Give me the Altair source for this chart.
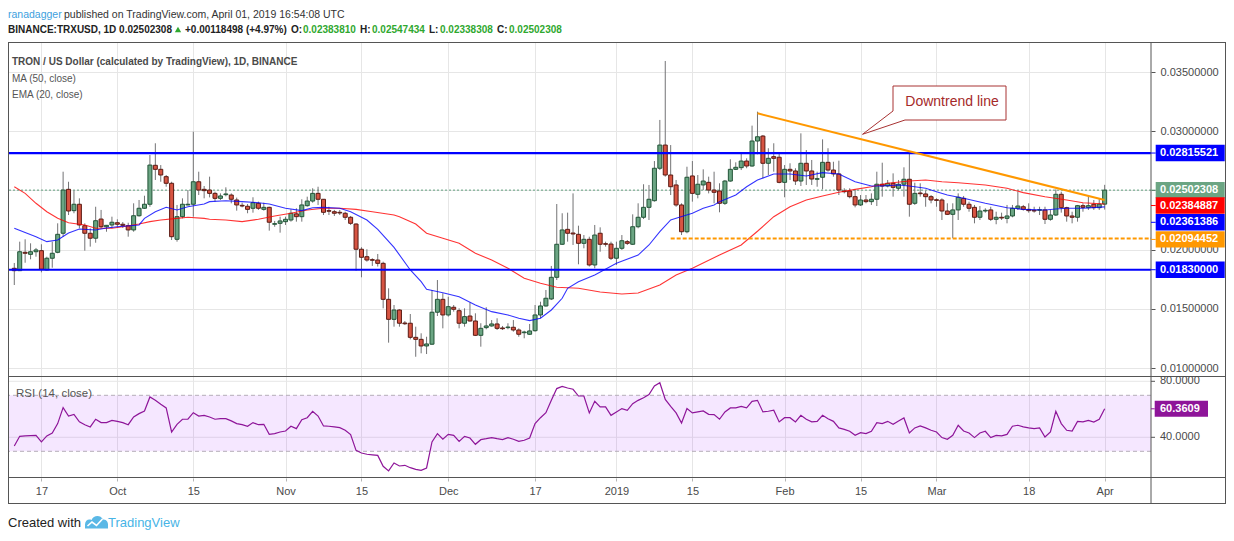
import altair as alt
import numpy as np
import pandas as pd

# ---------------- data (prices in thousandths of USD) ----------------
START = "2018-09-12"

open_k = [18.42, 18.22, 19.77, 19.60, 19.82, 19.91, 18.28, 19.27, 19.77, 21.38,
          25.09, 23.29, 23.83, 22.02, 21.38, 20.96, 22.58, 21.93, 22.08, 22.27,
          22.14, 22.02, 21.66, 22.86, 23.49, 23.83, 27.12, 26.78, 26.16, 25.60,
          20.87, 22.78, 23.77, 23.83, 25.73, 25.09, 25.03, 24.75, 24.33, 24.64,
          24.61, 24.19, 23.74, 23.66, 23.49, 23.91, 23.40, 23.57, 22.14, 22.22,
          22.36, 22.50, 23.02, 22.78, 23.71, 24.10, 24.75, 24.25, 23.29, 23.20,
          23.15, 23.07, 22.73, 22.16, 20.03, 19.40, 19.15, 19.12, 18.84, 15.80,
          14.11, 14.90, 13.80, 13.78, 12.59, 12.42, 11.86, 12.01, 14.71, 15.80,
          14.48, 15.13, 14.84, 13.78, 14.39, 13.97, 12.76, 13.41, 13.55, 13.72,
          13.38, 13.41, 13.44, 13.21, 12.98, 12.85, 13.15, 14.48, 15.24, 15.83,
          17.66, 20.45, 21.71, 21.40, 21.29, 20.53, 20.87, 18.70, 21.38, 20.50,
          20.47, 19.27, 20.11, 20.67, 20.45, 21.93, 22.73, 23.57, 24.13, 26.87,
          28.83, 26.30, 25.46, 23.77, 21.51, 26.22, 24.67, 25.46, 25.68, 25.03,
          24.95, 23.91, 25.79, 26.78, 26.92, 27.48, 27.06, 29.17, 29.59, 27.29,
          27.85, 27.80, 25.68, 26.78, 26.64, 25.79, 27.29, 26.64, 25.94, 26.11,
          27.37, 26.72, 26.39, 24.95, 24.95, 24.47, 23.77, 24.19, 24.05, 24.25,
          25.52, 25.37, 25.60, 25.18, 25.52, 25.94, 23.91, 24.78, 24.70, 24.47,
          24.21, 24.19, 23.26, 22.98, 23.35, 24.33, 23.83, 23.57, 22.73, 23.26,
          23.35, 22.56, 22.73, 22.64, 22.84, 23.49, 23.62, 23.40, 23.32, 23.32,
          23.35, 22.56, 22.92, 24.67, 23.54, 22.84, 22.73, 23.71, 23.54, 23.83,
          23.54, 23.84]

high_k = [18.87, 20.67, 20.87, 20.53, 20.14, 20.45, 19.40, 20.67, 22.22, 26.58,
          25.73, 24.98, 24.33, 22.22, 21.80, 23.62, 23.35, 22.08, 22.78, 22.56,
          22.33, 22.27, 23.91, 24.19, 24.55, 27.99, 28.98, 27.14, 26.30, 25.73,
          23.77, 24.33, 25.03, 29.96, 26.58, 25.37, 26.16, 24.89, 24.75, 25.26,
          24.75, 24.39, 23.96, 23.85, 24.42, 24.05, 23.96, 23.62, 22.42, 22.78,
          22.78, 23.40, 23.49, 24.25, 24.47, 25.18, 25.31, 24.27, 23.62, 23.35,
          23.35, 23.20, 22.84, 22.22, 20.20, 20.03, 19.27, 19.63, 18.98, 16.73,
          15.32, 14.96, 13.97, 14.56, 13.49, 12.93, 12.64, 16.59, 17.43, 16.31,
          16.02, 15.32, 15.04, 15.04, 15.54, 14.62, 13.78, 15.13, 14.05, 14.20,
          13.55, 13.78, 14.05, 13.35, 13.15, 13.72, 15.32, 15.60, 16.59, 18.62,
          23.85, 23.07, 23.12, 24.75, 22.02, 21.23, 21.09, 22.08, 21.88, 20.67,
          20.67, 20.67, 21.23, 20.81, 22.98, 23.91, 25.52, 25.46, 27.48, 30.95,
          35.93, 28.83, 25.88, 23.91, 27.00, 27.48, 26.30, 26.78, 26.16, 26.58,
          25.60, 25.88, 27.63, 27.37, 28.13, 27.71, 30.47, 31.65, 29.68, 28.56,
          28.98, 28.13, 27.14, 27.29, 26.87, 29.82, 28.41, 27.57, 26.58, 29.31,
          28.56, 27.42, 27.51, 25.18, 25.18, 25.09, 24.61, 24.61, 24.75, 26.58,
          27.34, 25.88, 26.44, 25.88, 26.95, 28.27, 25.65, 25.60, 24.98, 24.61,
          24.33, 24.33, 23.91, 23.91, 24.75, 24.53, 24.05, 23.77, 23.68, 23.49,
          23.62, 23.20, 23.12, 23.77, 23.77, 24.89, 23.77, 23.91, 23.62, 23.62,
          23.62, 23.35, 25.09, 24.89, 23.62, 23.20, 23.77, 23.91, 24.61, 24.19,
          24.33, 25.47]

low_k = [17.01, 18.20, 18.89, 19.18, 19.40, 18.08, 18.22, 18.47, 19.69, 21.09,
         22.92, 23.07, 21.80, 19.91, 20.25, 20.58, 21.80, 21.51, 21.80, 21.93,
         21.83, 21.09, 21.51, 22.78, 23.43, 23.62, 25.88, 25.73, 25.31, 20.81,
         20.67, 22.64, 23.74, 22.78, 24.61, 24.33, 24.41, 24.05, 24.19, 24.50,
         23.91, 23.29, 23.57, 23.07, 23.12, 23.35, 23.29, 21.60, 21.93, 21.43,
         22.08, 22.36, 22.36, 22.36, 23.62, 23.96, 23.77, 22.92, 22.92, 22.84,
         22.92, 22.50, 22.08, 18.22, 17.66, 18.98, 18.62, 18.57, 15.04, 12.14,
         13.49, 13.49, 13.63, 12.42, 10.95, 11.24, 11.18, 11.94, 14.39, 13.35,
         14.34, 14.76, 13.35, 13.49, 13.91, 12.70, 11.80, 13.27, 13.49, 13.21,
         13.21, 13.27, 13.07, 12.64, 12.51, 12.79, 13.07, 14.20, 15.18, 15.74,
         17.43, 20.39, 20.67, 20.39, 18.76, 20.11, 18.57, 18.42, 19.82, 20.25,
         19.12, 18.70, 19.97, 20.39, 20.39, 21.80, 22.58, 22.50, 24.05, 26.72,
         26.16, 24.61, 23.62, 21.23, 21.38, 24.05, 24.33, 25.03, 24.75, 23.91,
         23.15, 23.77, 25.73, 26.72, 26.72, 26.87, 27.00, 28.05, 26.02, 26.30,
         26.58, 25.60, 24.42, 25.88, 25.46, 25.37, 25.46, 25.46, 25.31, 25.09,
         26.58, 26.16, 24.61, 24.75, 24.33, 23.57, 23.68, 23.91, 23.77, 23.68,
         24.47, 25.26, 24.47, 25.03, 24.47, 22.78, 23.77, 24.47, 23.62, 23.91,
         23.62, 22.50, 22.92, 20.96, 22.50, 23.62, 23.20, 22.22, 22.50, 23.12,
         22.42, 22.14, 22.50, 22.22, 22.73, 23.35, 23.29, 23.12, 23.12, 22.92,
         22.16, 22.44, 22.84, 23.12, 22.36, 22.22, 22.36, 23.20, 23.35, 23.35,
         23.35, 23.38]

close_k = [18.22, 19.82, 19.69, 19.82, 19.97, 18.34, 19.27, 19.69, 21.29, 25.03,
           23.26, 23.83, 22.08, 21.38, 20.96, 22.44, 21.93, 22.05, 22.31, 22.14,
           22.05, 21.66, 22.86, 23.49, 23.83, 27.14, 26.78, 26.30, 25.60, 21.09,
           22.78, 23.83, 23.83, 25.73, 25.03, 24.98, 24.75, 24.33, 24.53, 24.70,
           24.25, 23.77, 23.68, 23.40, 23.96, 23.49, 23.57, 22.31, 22.19, 22.42,
           22.56, 23.07, 22.78, 23.77, 24.10, 24.75, 24.25, 23.15, 23.24, 23.07,
           23.09, 22.73, 22.22, 20.03, 19.35, 19.12, 19.10, 18.84, 15.80, 14.11,
           14.90, 13.78, 13.74, 12.59, 12.42, 11.86, 12.03, 14.71, 15.80, 14.48,
           15.18, 14.96, 13.78, 14.34, 13.97, 12.76, 13.35, 13.55, 13.72, 13.35,
           13.32, 13.46, 13.21, 12.85, 13.04, 13.13, 14.48, 15.24, 15.89, 17.66,
           20.45, 21.66, 21.38, 21.32, 20.53, 20.87, 18.70, 21.23, 20.45, 20.45,
           19.27, 20.11, 20.75, 20.53, 21.93, 22.73, 23.57, 24.25, 26.87, 28.83,
           26.30, 25.31, 23.77, 21.51, 26.11, 24.75, 25.52, 25.79, 25.03, 24.84,
           23.91, 25.79, 26.78, 26.95, 27.48, 27.06, 29.17, 29.53, 27.29, 27.71,
           27.71, 25.68, 26.78, 26.64, 25.79, 27.29, 26.64, 25.96, 25.99, 27.37,
           26.72, 26.39, 25.03, 24.89, 24.47, 23.77, 24.19, 24.05, 24.25, 25.52,
           25.37, 25.60, 25.26, 25.52, 25.94, 23.83, 24.75, 24.72, 24.47, 24.19,
           24.16, 23.26, 22.98, 23.35, 24.42, 23.83, 23.49, 22.73, 23.26, 23.32,
           22.56, 22.73, 22.67, 22.84, 23.49, 23.68, 23.40, 23.29, 23.26, 23.37,
           22.56, 22.92, 24.67, 23.54, 22.84, 22.73, 23.71, 23.57, 23.71, 23.54,
           23.84, 25.02]

rsi_vals = [33.8, 40.7, 41.0, 41.2, 41.4, 36.7, 41.0, 43.1, 49.8, 61.2,
            55.2, 56.4, 51.0, 49.0, 47.4, 52.9, 50.5, 50.5, 52.1, 51.4,
            50.5, 49.0, 54.5, 56.9, 58.8, 68.8, 66.4, 63.6, 61.0, 43.8,
            49.3, 52.9, 52.9, 57.6, 55.2, 55.7, 54.5, 52.9, 53.3, 53.3,
            51.7, 49.8, 49.0, 47.9, 50.5, 49.0, 49.3, 42.1, 42.6, 43.8,
            44.5, 47.9, 46.2, 52.6, 54.0, 58.6, 55.2, 48.1, 47.9, 47.4,
            46.9, 45.0, 41.9, 30.7, 28.8, 27.9, 27.5, 27.1, 19.3, 16.0,
            21.7, 19.5, 20.0, 18.3, 17.1, 16.4, 18.1, 36.7, 42.6, 38.6,
            42.1, 41.4, 37.1, 40.7, 39.5, 35.0, 38.3, 39.0, 39.8, 39.0,
            38.3, 39.8, 38.6, 37.1, 37.9, 39.5, 49.8, 54.0, 57.6, 66.4,
            74.8, 76.4, 75.2, 74.3, 69.5, 69.5, 57.4, 65.7, 61.7, 61.7,
            55.7, 58.1, 60.5, 59.3, 64.0, 66.4, 68.3, 70.5, 76.7, 79.0,
            67.1, 62.1, 57.4, 50.2, 60.5, 57.4, 58.1, 58.8, 56.4, 56.2,
            52.9, 58.1, 61.0, 61.0, 62.1, 61.0, 65.7, 66.4, 58.1, 58.6,
            59.3, 51.0, 54.0, 54.0, 51.0, 55.7, 52.9, 51.0, 51.4, 55.7,
            53.3, 51.4, 46.7, 45.7, 44.3, 41.4, 43.3, 42.6, 44.3, 50.5,
            49.8, 51.4, 49.3, 51.7, 53.8, 43.1, 46.7, 48.1, 46.7, 45.0,
            43.8, 39.8, 38.6, 41.4, 48.6, 44.5, 43.1, 39.8, 43.1, 44.3,
            39.8, 41.4, 41.0, 42.1, 47.9, 48.6, 47.4, 46.7, 46.2, 46.7,
            40.2, 43.8, 58.6, 49.8, 45.0, 44.5, 51.4, 51.0, 52.1, 50.9,
            52.9, 60.36]

ema_day = [0, 4, 6, 8, 10, 12, 15, 17, 19, 23, 24, 26, 28, 30, 32, 35, 36, 39, 42, 45,
           47, 50, 53, 55, 57, 60, 62, 65, 67, 70, 73, 75, 76, 79, 82, 85, 88, 91, 93, 95,
           97, 99, 101, 102, 104, 107, 111, 115, 117, 119, 121, 122, 125, 127, 129, 130, 133, 135, 137, 140,
           143, 146, 149, 152, 155, 158, 160, 163, 165, 168, 170, 172, 175, 179, 183, 186, 190, 192, 194, 197,
           201]
ema_k = [21.80, 21.09, 20.67, 20.81, 21.40, 21.74, 21.66, 21.83, 21.93, 22.08, 22.64, 23.20, 23.57, 23.35, 23.62, 23.85, 24.05, 24.13, 24.05, 23.96,
         23.85, 23.49, 23.29, 23.54, 23.57, 23.49, 23.20, 22.50, 21.71, 20.19, 18.28, 17.29, 16.65, 16.36, 16.02, 15.32, 14.76, 14.48, 14.20, 14.00,
         14.20, 14.90, 15.89, 16.73, 17.29, 17.86, 18.84, 19.54, 20.39, 21.51, 22.50, 22.64, 23.07, 23.49, 23.77, 24.05, 24.61, 25.31, 25.88, 26.39,
         26.39, 26.22, 26.50, 26.39, 25.73, 25.37, 25.37, 25.46, 25.37, 25.18, 24.89, 24.61, 24.33, 23.91, 23.54, 23.40, 23.35, 23.43, 23.49, 23.49,
         23.61]

ma_day = [0, 2, 4, 6, 8, 10, 13, 15, 18, 20, 23, 25, 27, 30, 32, 35, 36, 39, 42, 45,
          48, 51, 54, 57, 60, 63, 66, 70, 71, 74, 76, 79, 82, 85, 88, 91, 94, 97, 100, 102,
          104, 108, 112, 115, 119, 122, 125, 130, 134, 137, 140, 143, 146, 149, 152, 155, 158, 161, 165, 168,
          171, 174, 179, 183, 186, 190, 194, 197, 201]
ma_k = [25.31, 24.75, 23.91, 23.20, 22.64, 22.27, 22.08, 21.80, 21.80, 21.93, 22.16, 22.36, 22.50, 22.64, 22.73, 22.64, 22.56, 22.50, 22.36, 22.56,
        22.84, 23.07, 23.35, 23.49, 23.49, 23.40, 23.20, 22.92, 22.78, 22.16, 21.38, 20.96, 20.53, 19.69, 19.12, 18.42, 17.58, 17.15, 16.82, 16.78,
        16.73, 16.42, 16.25, 16.33, 17.01, 17.86, 18.42, 19.54, 20.39, 21.55, 22.78, 23.62, 24.19, 24.53, 24.84, 25.09, 25.31, 25.60, 25.79, 25.88,
        25.73, 25.65, 25.46, 25.18, 24.81, 24.47, 24.19, 23.96, 23.85]

level_vals = [0.02815521, 0.01830000]          # blue horizontal levels
support_val = 0.02094452                         # dashed orange support
support_from_day = 121
trend_day = [137, 201]                           # downtrend line
trend_k = [31.51, 24.19]
last_close = 0.02502308
ma_last = 0.02384887
ema_last = 0.02361386
rsi_last = 60.3609
price_ticks = [0.010, 0.015, 0.020, 0.025, 0.030, 0.035]
rsi_ticks = [40, 80]
rsi_band = [30, 70]
date_ticks = ["2018-09-17", "2018-10-01", "2018-10-15", "2018-11-01", "2018-11-15",
              "2018-12-01", "2018-12-17", "2019-01-01", "2019-01-15", "2019-02-01",
              "2019-02-15", "2019-03-01", "2019-03-18", "2019-04-01"]

# ---------------- tables ----------------
DAY = 86_400_000
t0 = int(pd.Timestamp(START, tz="UTC").value // 1_000_000)


def ms(d):
    return int(pd.Timestamp(d, tz="UTC").value // 1_000_000)


n = len(close_k)
days = np.arange(n)
candles = pd.DataFrame({
    "t": t0 + days * DAY,
    "open": np.array(open_k) / 1000,
    "high": np.array(high_k) / 1000,
    "low": np.array(low_k) / 1000,
    "close": np.array(close_k) / 1000,
    "rsi": rsi_vals,
})
candles["dir"] = np.where(candles["close"] >= candles["open"], "up", "down")

ema = pd.DataFrame({"t": t0 + np.array(ema_day) * DAY, "v": np.array(ema_k) / 1000})
ma = pd.DataFrame({"t": t0 + np.array(ma_day) * DAY, "v": np.array(ma_k) / 1000})
trend = pd.DataFrame({"t": t0 + np.array(trend_day) * DAY, "v": np.array(trend_k) / 1000})
levels = pd.DataFrame({"v": level_vals})
support = pd.DataFrame({"t": [t0 + support_from_day * DAY], "v": [support_val]})
closeline = pd.DataFrame({"v": [last_close]})
ONE = pd.DataFrame({"k": [0]})

# ---------------- styles ----------------
W, H = 1143, 436
SANS = "Liberation Sans, Arial, sans-serif"
UP, DOWN = "#6ba583", "#d75442"
UP_B, DOWN_B = "#225437", "#5b1a13"
FRAME = "#555555"
GRID = "#e6e6e6"
ORANGE = "#ff9800"
BLUE = "#0000ff"

X_SCALE = alt.Scale(type="utc", domain=[t0 - 0.2375 * DAY, t0 + 208.62 * DAY], nice=False)
X_AXIS = alt.Axis(values=[ms(d) for d in date_ticks],
                  labelExpr="utcdate(datum.value) == 1 ? (utcmonth(datum.value) == 0 ? utcFormat(datum.value, '%Y') : utcFormat(datum.value, '%b')) : utcFormat(datum.value, '%d')",
                  grid=True, gridColor=GRID, domain=False, tickSize=3, tickColor="#b5b5b5",
                  labelFont=SANS, labelFontSize=11, labelColor="#4a4a4a", labelPadding=10,
                  labelBaseline="middle", labelFlush=False, labelOverlap=False, title=None, zindex=0)
PRICE_SCALE = alt.Scale(domain=[0.0007095, 0.0375338], nice=False, zero=False)
RSI_SCALE = alt.Scale(domain=[10.93, 322.36], nice=False, zero=False)
PRICE_AXIS = alt.Axis(orient="right", values=price_ticks, format=".8f", grid=True, gridColor=GRID,
                      domain=False, tickSize=4, tickColor=FRAME, labelPadding=5, labelFont=SANS,
                      labelFontSize=11, labelColor="#4a4a4a", title=None, zindex=0,
                      labelOverlap=False, labelFlush=False)


def X(field="t"):
    return alt.X(f"{field}:T", scale=X_SCALE, axis=X_AXIS, title=None)


def YP(field, axis=None):
    return alt.Y(f"{field}:Q", scale=PRICE_SCALE, axis=axis, title=None)


def YR(field):
    return alt.Y(f"{field}:Q", scale=RSI_SCALE, axis=None, title=None)


def txt(s, x, y, size=10, color="#555555", font=SANS, weight="normal", align="left"):
    return alt.Chart(ONE).mark_text(text=s, font=font, fontSize=size, fontWeight=weight,
                                    color=color, align=align, baseline="middle").encode(
        x=alt.value(x), y=alt.value(y))


def hline(x1, x2, y, color=FRAME, width=1):
    return alt.Chart(ONE).mark_rule(color=color, strokeWidth=width).encode(
        x=alt.value(x1), x2=alt.value(x2), y=alt.value(y))


def vline(x, y1, y2, color=FRAME, width=1):
    return alt.Chart(ONE).mark_rule(color=color, strokeWidth=width).encode(
        x=alt.value(x), y=alt.value(y1), y2=alt.value(y2))


def price_box(value, color, dy=0.0):
    d = pd.DataFrame({"v": [value], "s": [f"{value:.8f}"]})
    base = alt.Chart(d)
    tick = base.mark_rule(color=color, strokeWidth=1, yOffset=dy).encode(
        y=YP("v"), x=alt.value(W), x2=alt.value(W + 4.7))
    box = base.mark_rect(color=color, yOffset=dy - 8.2, y2Offset=dy + 8.2).encode(
        y=YP("v"), y2="v:Q", x=alt.value(W + 4.7), x2=alt.value(W + 73.7))
    lab = base.mark_text(font=SANS, fontSize=11, fontWeight="bold", color="white",
                         align="left", baseline="middle", dy=dy).encode(
        y=YP("v"), x=alt.value(W + 9), text="s:N")
    return [tick, box, lab]


layers = []

# RSI pane background: grid, band, dashed bounds
rsi_grid = alt.Chart(pd.DataFrame({"v": rsi_ticks})).mark_rule(color=GRID).encode(y=YR("v"))
band = alt.Chart(pd.DataFrame({"lo": [rsi_band[0]], "hi": [rsi_band[1]]})).mark_rect(
    color="#9915ff", opacity=0.1).encode(y=YR("hi"), y2="lo:Q", x=alt.value(0), x2=alt.value(W))
rsi_bounds = alt.Chart(pd.DataFrame({"v": rsi_band})).mark_rule(
    color="#b4adb8", strokeDash=[4, 3]).encode(y=YR("v"))
layers += [rsi_grid, band, rsi_bounds]

# last close dotted line
layers.append(alt.Chart(closeline).mark_rule(color="#5f9e7d", strokeDash=[2, 2], strokeWidth=1)
              .encode(y=YP("v")))

# candles
wicks = alt.Chart(candles).mark_rule(color="#737375", strokeWidth=1).encode(
    x=X(), y=YP("low", PRICE_AXIS), y2="high:Q")
bodies = alt.Chart(candles).mark_bar(size=4, strokeWidth=1).encode(
    x=X(), y=YP("open"), y2="close:Q",
    fill=alt.Fill("dir:N", scale=alt.Scale(domain=["up", "down"], range=[UP, DOWN]), legend=None),
    stroke=alt.Stroke("dir:N", scale=alt.Scale(domain=["up", "down"], range=[UP_B, DOWN_B]), legend=None))
layers += [wicks, bodies]

# moving averages
layers.append(alt.Chart(ma).mark_line(color="#ff0000", strokeWidth=1.1, opacity=0.8).encode(x=X(), y=YP("v")))
layers.append(alt.Chart(ema).mark_line(color="#0000ff", strokeWidth=1.1, opacity=0.8).encode(x=X(), y=YP("v")))

# drawings
layers.append(alt.Chart(support).mark_rule(color=ORANGE, strokeWidth=2, strokeDash=[4, 2]).encode(
    x=X(), x2=alt.value(W), y=YP("v")))
layers.append(alt.Chart(levels).mark_rule(color=BLUE, strokeWidth=2.2).encode(y=YP("v")))
layers.append(alt.Chart(trend).mark_line(color=ORANGE, strokeWidth=2).encode(x=X(), y=YP("v")))

# RSI line
layers.append(alt.Chart(candles).mark_line(color="#8e1599", strokeWidth=1.2).encode(x=X(), y=YR("rsi")))

# callout
callout_path = "M-55,-16 L58,-16 L58,18 L-43,18 L-85.5,32.3 L-55,9 Z"
layers.append(alt.Chart(ONE).mark_point(shape=callout_path, size=4, filled=True, fill="white",
                                        stroke="#a83232", strokeWidth=1, opacity=1).encode(
    x=alt.value(940), y=alt.value(60)))
layers.append(txt("Downtrend line", 944, 60, size=14, color="#a52a2a", align="center"))

# frame
layers += [
    hline(0, W + 74.5, 0.5), hline(0, W + 74.5, 334.5), hline(0, W + 74.5, H - 0.5),
    hline(0, W + 74.5, 461.5),
    vline(0.5, 0, 462), vline(W, 0, 462), vline(W + 74.5, 0, 462),
]

# right-axis value boxes
for v, c, dy in [(level_vals[0], BLUE, 0), (last_close, UP, 0), (ma_last, "#ff0000", 1.5),
                 (ema_last, BLUE, 15.5), (support_val, ORANGE, 1.0), (level_vals[1], BLUE, 0)]:
    layers += price_box(v, c, dy)

# RSI axis labels and value box
rt = alt.Chart(pd.DataFrame({"v": rsi_ticks}))
layers.append(rt.mark_rule(color=FRAME).encode(y=YR("v"), x=alt.value(W), x2=alt.value(W + 4)))
layers.append(rt.mark_text(font=SANS, fontSize=11, color="#4a4a4a", align="left", baseline="middle").encode(
    y=YR("v"), x=alt.value(W + 9), text=alt.Text("v:Q", format=".4f")))
rb = alt.Chart(pd.DataFrame({"v": [rsi_last], "s": [f"{rsi_last:.4f}"]}))
layers.append(rb.mark_rule(color="#8e1599").encode(y=YR("v"), x=alt.value(W), x2=alt.value(W + 3.7)))
layers.append(rb.mark_rect(color="#8e1599", yOffset=-8, y2Offset=8).encode(
    y=YR("v"), y2="v:Q", x=alt.value(W + 3.7), x2=alt.value(W + 57)))
layers.append(rb.mark_text(font=SANS, fontSize=11, fontWeight="bold", color="white", align="left",
                           baseline="middle").encode(y=YR("v"), x=alt.value(W + 9), text="s:N"))

# header
GREEN_T = "#2fa82f"
DARK = "#222222"
layers += [
    txt("ranadagger", 0, -27.5, size=10.5, color="#3d9fde"),
    txt("published on TradingView.com, April 01, 2019 16:54:08 UTC", 56, -27.5, size=10.5, color="#333333"),
    txt("BINANCE:TRXUSD, 1D 0.02502308", 0, -12, size=10, color=DARK, weight="bold"),
    txt("+0.00118498 (+4.97%)", 177, -12, size=10, color=DARK, weight="bold"),
    txt("O:", 283, -12, size=10, color=DARK, weight="bold"),
    txt("0.02383810", 295, -12, size=10, color=GREEN_T, weight="bold"),
    txt("H:", 352, -12, size=10, color=DARK, weight="bold"),
    txt("0.02547434", 364, -12, size=10, color=GREEN_T, weight="bold"),
    txt("L:", 421, -12, size=10, color=DARK, weight="bold"),
    txt("0.02338308", 432, -12, size=10, color=GREEN_T, weight="bold"),
    txt("C:", 489, -12, size=10, color=DARK, weight="bold"),
    txt("0.02502308", 501, -12, size=10, color=GREEN_T, weight="bold"),
]
layers.append(alt.Chart(ONE).mark_point(shape="triangle-up", filled=True, size=40, color=GREEN_T, opacity=1)
              .encode(x=alt.value(170), y=alt.value(-12.5)))

# pane legends
layers += [
    txt("TRON / US Dollar (calculated by TradingView), 1D, BINANCE", 4, 19.7, size=10, color="#4a4a4a", weight="bold"),
    txt("MA (50, close)", 4, 36.5, size=10, color="#555555"),
    txt("EMA (20, close)", 4, 53, size=10, color="#555555"),
    txt("RSI (14, close)", 8, 352, size=11.5, color="#555555"),
]

# footer
layers.append(txt("Created with", 0, 481, size=13, color="#222222"))
cloud = "M-11.5,6 L-11.5,2 C-11.5,-2 -8,-4 -5,-2.5 C-3,-7.5 4,-8 6.5,-3 C10,-3.5 12,0 11.5,3 L11.5,6 Z"
zig = "M-9,3.5 L-4.5,-0.5 L0,3 L6,-3.5"
layers.append(alt.Chart(ONE).mark_point(shape=cloud, size=4, filled=True, color="#5ab8e6", opacity=1)
              .encode(x=alt.value(88.5), y=alt.value(480.5)))
layers.append(alt.Chart(ONE).mark_point(shape=zig, size=4, filled=False, stroke="white", strokeWidth=1.6, opacity=1)
              .encode(x=alt.value(88.5), y=alt.value(480.5)))
layers.append(txt("TradingView", 100, 481, size=13, color="#47b4e6"))

chart = alt.layer(*layers).resolve_scale(y="independent").properties(
    width=W, height=H,
    padding={"left": 0, "top": 34, "right": 75, "bottom": 55},
    autosize=alt.AutoSizeParams(type="none"),
    background="white",
).configure_view(stroke=None)

chart.save("out.html", embed_options={"renderer": "svg", "actions": False})
